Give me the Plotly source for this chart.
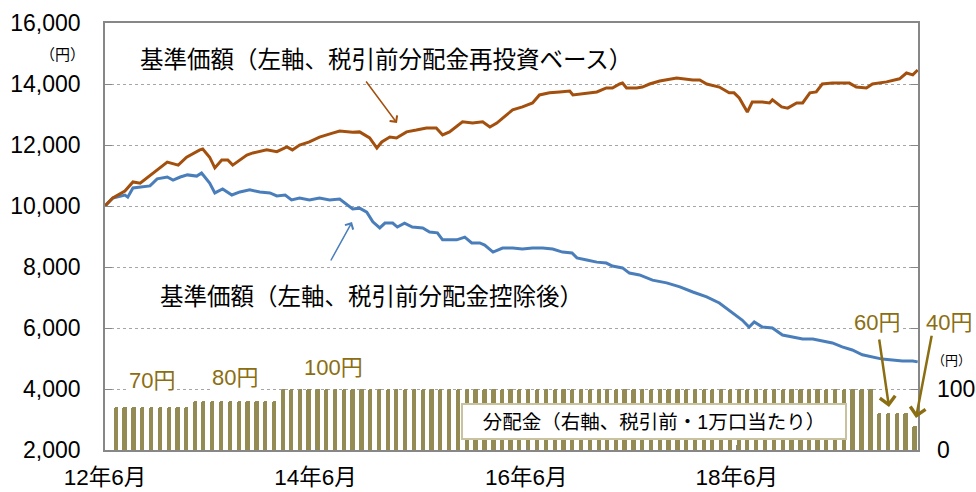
import plotly.graph_objects as go
import pandas as pd

# ---------------- data ----------------
reinv_dates = [
    "2012-06-01", "2012-06-28", "2012-08-09", "2012-09-06", "2012-10-01", "2012-11-15",
    "2013-01-03", "2013-02-10", "2013-03-11", "2013-04-26", "2013-05-06", "2013-05-30",
    "2013-06-17", "2013-07-11", "2013-08-01", "2013-08-18", "2013-10-06", "2013-10-27",
    "2013-12-14", "2014-01-18", "2014-02-22", "2014-03-13", "2014-04-07", "2014-05-11",
    "2014-06-15", "2014-07-30", "2014-08-24", "2014-10-08", "2014-11-01", "2014-12-06",
    "2014-12-31", "2015-01-17", "2015-02-14", "2015-03-09", "2015-04-13", "2015-05-17",
    "2015-06-21", "2015-07-25", "2015-08-16", "2015-09-09", "2015-09-27", "2015-10-24",
    "2015-11-28", "2016-01-02", "2016-01-27", "2016-02-20", "2016-03-25", "2016-04-15",
    "2016-05-19", "2016-06-23", "2016-07-17", "2016-08-21", "2016-09-25", "2016-10-30",
    "2016-11-10", "2016-12-28", "2017-02-01", "2017-03-06", "2017-03-27", "2017-04-21",
    "2017-05-01", "2017-05-15", "2017-06-19", "2017-07-09", "2017-08-03", "2017-09-07",
    "2017-11-05", "2017-12-31", "2018-01-24", "2018-02-17", "2018-04-02", "2018-05-06",
    "2018-05-23", "2018-06-10", "2018-07-08", "2018-07-25", "2018-08-29", "2018-09-23",
    "2018-10-03", "2018-11-04", "2018-11-25", "2018-12-26", "2019-01-16", "2019-02-10",
    "2019-03-04", "2019-03-25", "2019-04-29", "2019-06-27", "2019-07-21", "2019-08-25",
    "2019-09-15", "2019-11-03", "2019-12-18", "2020-01-11", "2020-02-02", "2020-02-19",
]
reinv_values = [
    10000, 10260, 10490, 10790, 10750, 11080,
    11440, 11340, 11600, 11840, 11870, 11600,
    11250, 11510, 11510, 11340, 11670, 11740,
    11840, 11780, 11940, 11840, 12000, 12100,
    12260, 12390, 12460, 12420, 12430, 12230,
    11900, 12100, 12260, 12230, 12430, 12490,
    12560, 12560, 12330, 12430, 12560, 12760,
    12720, 12760, 12590, 12720, 12990, 13150,
    13250, 13380, 13640, 13710, 13740, 13770,
    13640, 13710, 13740, 13870, 13870, 14000,
    14030, 13870, 13870, 13900, 14000, 14100,
    14200, 14130, 14130, 14000, 13900, 13710,
    13710, 13540, 13080, 13410, 13410, 13380,
    13480, 13250, 13210, 13380, 13380, 13710,
    13740, 14000, 14030, 14030, 13900, 13870,
    14000, 14070, 14170, 14360, 14300, 14460,
]

nav_dates = [
    "2012-06-01", "2012-06-28", "2012-08-09", "2012-08-19", "2012-09-06", "2012-10-01",
    "2012-11-04", "2012-11-29", "2013-01-03", "2013-01-23", "2013-02-17", "2013-03-14",
    "2013-04-15", "2013-05-02", "2013-05-30", "2013-06-17", "2013-07-14", "2013-08-15",
    "2013-09-12", "2013-10-16", "2013-11-20", "2013-12-25", "2014-01-18", "2014-02-16",
    "2014-03-10", "2014-04-07", "2014-05-11", "2014-06-15", "2014-07-20", "2014-08-24",
    "2014-09-10", "2014-10-08", "2014-11-01", "2014-11-26", "2014-12-17", "2015-01-10",
    "2015-01-28", "2015-02-24", "2015-03-12", "2015-04-06", "2015-05-03", "2015-06-08",
    "2015-07-02", "2015-07-29", "2015-08-16", "2015-09-09", "2015-10-04", "2015-11-01",
    "2015-11-25", "2015-12-23", "2016-01-09", "2016-02-07", "2016-03-11", "2016-04-15",
    "2016-05-19", "2016-06-23", "2016-07-28", "2016-09-01", "2016-10-05", "2016-11-07",
    "2016-11-24", "2016-12-28", "2017-02-01", "2017-03-06", "2017-03-27", "2017-05-01",
    "2017-05-25", "2017-06-29", "2017-07-23", "2017-08-13", "2017-10-01", "2017-11-16",
    "2017-12-31", "2018-02-17", "2018-04-02", "2018-05-16", "2018-06-20", "2018-07-14",
    "2018-08-01", "2018-08-29", "2018-10-03", "2018-11-07", "2018-12-12", "2019-01-16",
    "2019-02-20", "2019-03-25", "2019-04-29", "2019-06-02", "2019-07-07", "2019-08-11",
    "2019-09-15", "2019-10-19", "2019-11-23", "2019-12-28", "2020-02-02", "2020-02-19",
]
nav_values = [
    10000, 10260, 10360, 10290, 10590, 10620,
    10660, 10890, 10950, 10850, 10950, 11020,
    10980, 11080, 10750, 10430, 10560, 10360,
    10460, 10530, 10460, 10430, 10330, 10360,
    10200, 10260, 10200, 10260, 10200, 10230,
    10100, 9900, 9930, 9800, 9480, 9280,
    9440, 9440, 9310, 9440, 9310, 9280,
    9150, 9120, 8890, 8890, 8890, 8980,
    8790, 8790, 8720, 8490, 8620, 8620,
    8590, 8620, 8620, 8590, 8490, 8460,
    8300, 8230, 8160, 8130, 8030, 7970,
    7800, 7740, 7640, 7570, 7480, 7350,
    7180, 7020, 6820, 6520, 6260, 6030,
    6200, 6030, 6000, 5770, 5700, 5640,
    5640, 5570, 5510, 5380, 5280, 5120,
    5050, 4980, 4950, 4920, 4920, 4890,
]

# monthly distribution (per 10,000 units, yen), Jul 2012 - Feb 2020
dist_months = pd.date_range("2012-07-01", periods=92, freq="MS") + pd.Timedelta(days=7)
dist_values = [
    70, 70, 70, 70, 70, 70, 70, 70, 70,
    80, 80, 80, 80, 80, 80, 80, 80, 80, 80,
    100, 100, 100, 100, 100, 100, 100, 100, 100, 100,
    100, 100, 100, 100, 100, 100, 100, 100, 100, 100,
    100, 100, 100, 100, 100, 100, 100, 100, 100, 100,
    100, 100, 100, 100, 100, 100, 100, 100, 100, 100,
    100, 100, 100, 100, 100, 100, 100, 100, 100, 100,
    100, 100, 100, 100, 100, 100, 100, 100, 100, 100,
    100, 100, 100, 100, 100, 100, 100, 100,
    60, 60, 60, 60,
    40,
]

x_tick_vals = ["2012-06-01", "2014-06-01", "2016-06-01", "2018-06-01"]
x_tick_text = ["12年6月", "14年6月", "16年6月", "18年6月"]
y2_tick_vals = [0, 100, 200, 300, 400, 500, 600, 700]
y2_tick_text = ["0", "100", "", "", "", "", "", ""]

# ---------------- styles ----------------
FONT = "Liberation Sans, Arial, Noto Sans CJK JP, sans-serif"
BROWN = "#A34F0D"
BLUE = "#4A7EBB"
OLIVE = "#948A54"
GOLD = "#8C6E12"
AXIS = "#878787"
GRID = "#A6A6A6"

W, H = 976, 492
L, R, T, B = 105, 58, 23, 42
PW, PH = W - L - R, H - T - B


def px(x):
    return (x - L) / PW


def py(y):
    return (H - B - y) / PH


fig = go.Figure()

fig.add_trace(go.Bar(
    x=dist_months, y=dist_values, yaxis="y2",
    marker=dict(color=OLIVE, line=dict(width=0), cornerradius=2),
    width=15 * 86400000, showlegend=False, hoverinfo="skip",
))
fig.add_trace(go.Scatter(
    x=nav_dates, y=nav_values, mode="lines",
    line=dict(color=BLUE, width=3), showlegend=False,
))
fig.add_trace(go.Scatter(
    x=reinv_dates, y=reinv_values, mode="lines",
    line=dict(color=BROWN, width=3), showlegend=False,
))

ann = []
ann.append(dict(x=px(138), y=py(60), xref="paper", yref="paper", xanchor="left", yanchor="middle",
                text="基準価額（左軸、税引前分配金再投資ベース）", showarrow=False,
                font=dict(size=23.5, color="#000000", family=FONT)))
ann.append(dict(x=px(158), y=py(297), xref="paper", yref="paper", xanchor="left", yanchor="middle",
                text="基準価額（左軸、税引前分配金控除後）", showarrow=False,
                font=dict(size=23.5, color="#000000", family=FONT)))
# arrows
for (hx, hy, tx, ty, col, w) in [
    (397, 123, 365, 80, BROWN, 1.5),
    (352, 222, 330, 262, BLUE, 1.5),
    (889, 407, 879, 338, GOLD, 2.5),
    (916, 418, 932, 334, GOLD, 2.5),
]:
    ann.append(dict(x=px(hx), y=py(hy), xref="paper", yref="paper", text="",
                    showarrow=True, ax=tx - hx, ay=ty - hy, axref="pixel", ayref="pixel",
                    arrowhead=4, arrowsize=1.2, arrowwidth=w, arrowcolor=col))
for (cx, cy, t) in [(152, 380, "70円"), (235, 377, "80円"), (333, 367, "100円"),
                    (877, 322, "60円"), (949, 322, "40円")]:
    ann.append(dict(x=px(cx), y=py(cy), xref="paper", yref="paper", text=t, showarrow=False,
                    xanchor="center", yanchor="middle", bgcolor="#FFFFFF", borderpad=0,
                    font=dict(size=22, color=GOLD, family=FONT)))
ann.append(dict(x=px(654), y=py(421.5), xref="paper", yref="paper",
                text="分配金（右軸、税引前・1万口当たり）", showarrow=False,
                xanchor="center", yanchor="middle", width=382, height=33,
                bgcolor="#FFFFFF", bordercolor="#C9C29E", borderwidth=2, borderpad=0,
                font=dict(size=19.5, color="#000000", family=FONT)))
ann.append(dict(x=px(62), y=py(55), xref="paper", yref="paper", text="（円）", showarrow=False,
                xanchor="center", yanchor="middle", font=dict(size=15, color="#000000", family=FONT)))
ann.append(dict(x=px(973), y=py(360), xref="paper", yref="paper", text="（円）", showarrow=False,
                xanchor="right", yanchor="middle", font=dict(size=13, color="#000000", family=FONT)))

fig.update_layout(
    width=W, height=H,
    margin=dict(l=L, r=R, t=T, b=B, pad=0, autoexpand=False),
    paper_bgcolor="#FFFFFF", plot_bgcolor="#FFFFFF",
    font=dict(family=FONT, size=23, color="#000000"),
    bargap=0,
    annotations=ann,
    xaxis=dict(
        type="date", range=["2012-06-01", "2020-02-20"],
        tickvals=x_tick_vals, ticktext=x_tick_text,
        ticks="inside", ticklen=5, tickcolor=AXIS, tickwidth=1,
        showgrid=False, zeroline=False, automargin=False,
        showline=True, linecolor=AXIS, linewidth=1.5, mirror=True,
        tickfont=dict(size=22.5), ticklabelstandoff=6,
    ),
    yaxis=dict(
        range=[2000, 16000], tickvals=[2000, 4000, 6000, 8000, 10000, 12000, 14000, 16000],
        tickformat=",d", ticks="inside", ticklen=7, tickcolor=AXIS,
        showgrid=True, gridcolor=GRID, griddash="dot", gridwidth=1,
        zeroline=False, showline=True, linecolor=AXIS, linewidth=1.5, mirror=True,
        automargin=False, tickfont=dict(size=23), ticklabelstandoff=18,
    ),
    yaxis2=dict(
        overlaying="y", side="right", range=[0, 700],
        tickvals=y2_tick_vals, ticktext=y2_tick_text,
        ticks="inside", ticklen=7, tickcolor=AXIS,
        showgrid=False, zeroline=False, showline=False, automargin=False,
        tickfont=dict(size=23), ticklabelstandoff=18,
    ),
)

fig.write_html(
    "out.html",
    config={"displayModeBar": False},
    post_script="document.body.style.margin='0';document.body.style.overflow='hidden';",
)
